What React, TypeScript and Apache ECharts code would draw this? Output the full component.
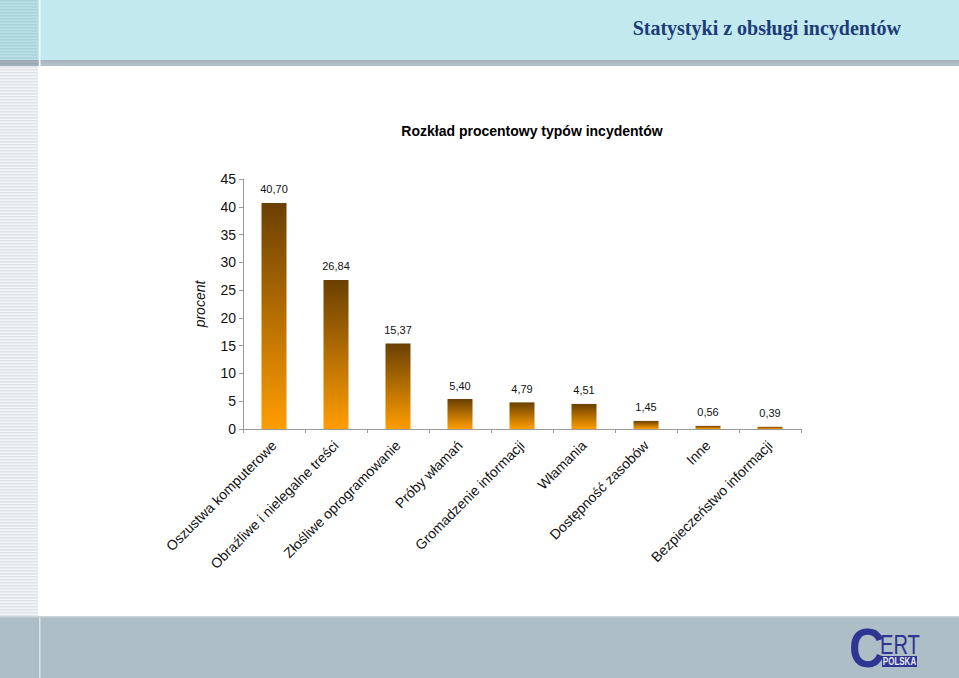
import React, { useEffect, useRef } from "react";
import * as echarts from "echarts";

const categories = [
  "Oszustwa komputerowe",
  "Obraźliwe i nielegalne treści",
  "Złośliwe oprogramowanie",
  "Próby włamań",
  "Gromadzenie informacji",
  "Włamania",
  "Dostępność zasobów",
  "Inne",
  "Bezpieczeństwo informacji",
];
const values = [40.7, 26.84, 15.37, 5.4, 4.79, 4.51, 1.45, 0.56, 0.39];
const yMin = 0;
const yMax = 45;
const yInterval = 5;
const headerTitle = "Statystyki z obsługi incydentów";
const chartTitle = "Rozkład procentowy typów incydentów";
const yName = "procent";

export default function App() {
  const ref = useRef<HTMLDivElement>(null);
  useEffect(() => {
    document.body.style.margin = "0";
    const chart = echarts.init(ref.current!, null, { renderer: "svg" });
    const stripes: any[] = [];
    for (let y = 0; y < 616; y += 3) {
      const inHeader = y < 60;
      stripes.push({
        type: "rect",
        shape: { x: 0, y, width: 38, height: 1.5 },
        style: { fill: inHeader ? "#a9d2d9" : y < 66 ? "#9aa8b4" : "#dfe3e7" },
        silent: true,
      });
    }
    chart.setOption({
      animation: false,
      backgroundColor: "#ffffff",
      graphic: [
        { type: "rect", shape: { x: 0, y: 0, width: 959, height: 60 }, style: { fill: "#c1e9ee" }, z: -10 },
        {
          type: "rect",
          shape: { x: 0, y: 60, width: 959, height: 6 },
          style: {
            fill: new echarts.graphic.LinearGradient(0, 0, 0, 1, [
              { offset: 0, color: "#a4b3bf" },
              { offset: 1, color: "#b9c4cc" },
            ]),
          },
          z: -10,
        },
        { type: "rect", shape: { x: 0, y: 0, width: 38, height: 616 }, style: { fill: "#f3f4f6" }, z: -9 },
        { type: "rect", shape: { x: 0, y: 0, width: 38, height: 60 }, style: { fill: "#b9e0e6" }, z: -9 },
        { type: "rect", shape: { x: 0, y: 60, width: 38, height: 6 }, style: { fill: "#a4b3bf" }, z: -9 },
        ...stripes.map((s) => ({ ...s, z: -8 })),
        { type: "rect", shape: { x: 39, y: 0, width: 1.5, height: 66 }, style: { fill: "#f2fbfc" }, z: -7 },
        { type: "rect", shape: { x: 0, y: 616, width: 959, height: 62 }, style: { fill: "#adbec7" }, z: -10 },
        { type: "rect", shape: { x: 0, y: 616, width: 959, height: 1.5 }, style: { fill: "#c9d5d9" }, z: -7 },
        { type: "rect", shape: { x: 39, y: 617, width: 1.5, height: 61 }, style: { fill: "#d6e2e8" }, z: -7 },
        {
          type: "text",
          x: 901,
          y: 28,
          style: {
            text: headerTitle,
            fill: "#1d3b78",
            font: "bold 20px 'Liberation Serif', 'DejaVu Serif', serif",
            textAlign: "right",
            textVerticalAlign: "middle",
          },
        },
        {
          type: "text",
          x: 532,
          y: 131,
          style: {
            text: chartTitle,
            fill: "#000000",
            font: "bold 14px 'Liberation Sans', Arial, sans-serif",
            textAlign: "center",
            textVerticalAlign: "middle",
          },
        },
        // logo
        {
          type: "text",
          x: 849,
          y: 647,
          scaleX: 0.88,
          style: {
            text: "C",
            fill: "#2e3592",
            fontSize: 56,
            fontWeight: "bold",
            fontFamily: "'Liberation Sans', Arial, sans-serif",
            lineHeight: 50,
            align: "left",
            verticalAlign: "middle",
          },
        },
        {
          type: "text",
          x: 880,
          y: 644,
          scaleX: 0.72,
          style: {
            text: "ERT",
            fill: "#2e3592",
            fontSize: 28,
            fontFamily: "'Liberation Sans', Arial, sans-serif",
            lineHeight: 26,
            align: "left",
            verticalAlign: "middle",
          },
        },
        {
          type: "rect",
          shape: { x: 882, y: 656, width: 35, height: 11 },
          style: { fill: "#2e3592" },
        },
        {
          type: "text",
          x: 899.5,
          y: 662,
          scaleX: 0.8,
          style: {
            text: "POLSKA",
            fill: "#e8ecf4",
            font: "bold 10px 'Liberation Sans', Arial, sans-serif",
            textAlign: "center",
            textVerticalAlign: "middle",
          },
        },
      ],
      grid: { left: 243, right: 158, top: 179, bottom: 249, containLabel: false },
      xAxis: {
        type: "category",
        data: categories,
        axisLine: { show: true, lineStyle: { color: "#9a9a9a", width: 1 } },
        axisTick: { show: true, alignWithLabel: false, interval: 0, length: 4, lineStyle: { color: "#9a9a9a" } },
        axisLabel: {
          interval: 0,
          rotate: 45,
          margin: 14,
          color: "#111111",
          fontSize: 14,
          fontFamily: "'Liberation Sans', Arial, sans-serif",
        },
        splitLine: { show: false },
      },
      yAxis: {
        type: "value",
        min: yMin,
        max: yMax,
        interval: yInterval,
        name: yName,
        nameLocation: "middle",
        nameGap: 36,
        nameRotate: 90,
        nameTextStyle: {
          color: "#111111",
          fontSize: 14,
          fontStyle: "italic",
          fontFamily: "'Liberation Sans', Arial, sans-serif",
        },
        axisLine: { show: true, lineStyle: { color: "#9a9a9a", width: 1 } },
        axisTick: { show: true, inside: false, length: 4, lineStyle: { color: "#9a9a9a" } },
        axisLabel: {
          margin: 7,
          color: "#111111",
          fontSize: 14,
          fontFamily: "'Liberation Sans', Arial, sans-serif",
        },
        splitLine: { show: false },
      },
      series: [
        {
          type: "bar",
          data: values,
          barWidth: 25,
          itemStyle: {
            color: new echarts.graphic.LinearGradient(0, 0, 0, 1, [
              { offset: 0, color: "#6a4000" },
              { offset: 1, color: "#ff9d00" },
            ]),
          },
          label: {
            show: true,
            position: "top",
            distance: 8,
            color: "#111111",
            fontSize: 11,
            fontFamily: "'Liberation Sans', Arial, sans-serif",
            formatter: (p: any) => Number(p.value).toFixed(2).replace(".", ","),
          },
        },
      ],
    });
    return () => chart.dispose();
  }, []);
  return <div ref={ref} style={{ position: "fixed", left: 0, top: 0, width: 959, height: 678 }} />;
}
